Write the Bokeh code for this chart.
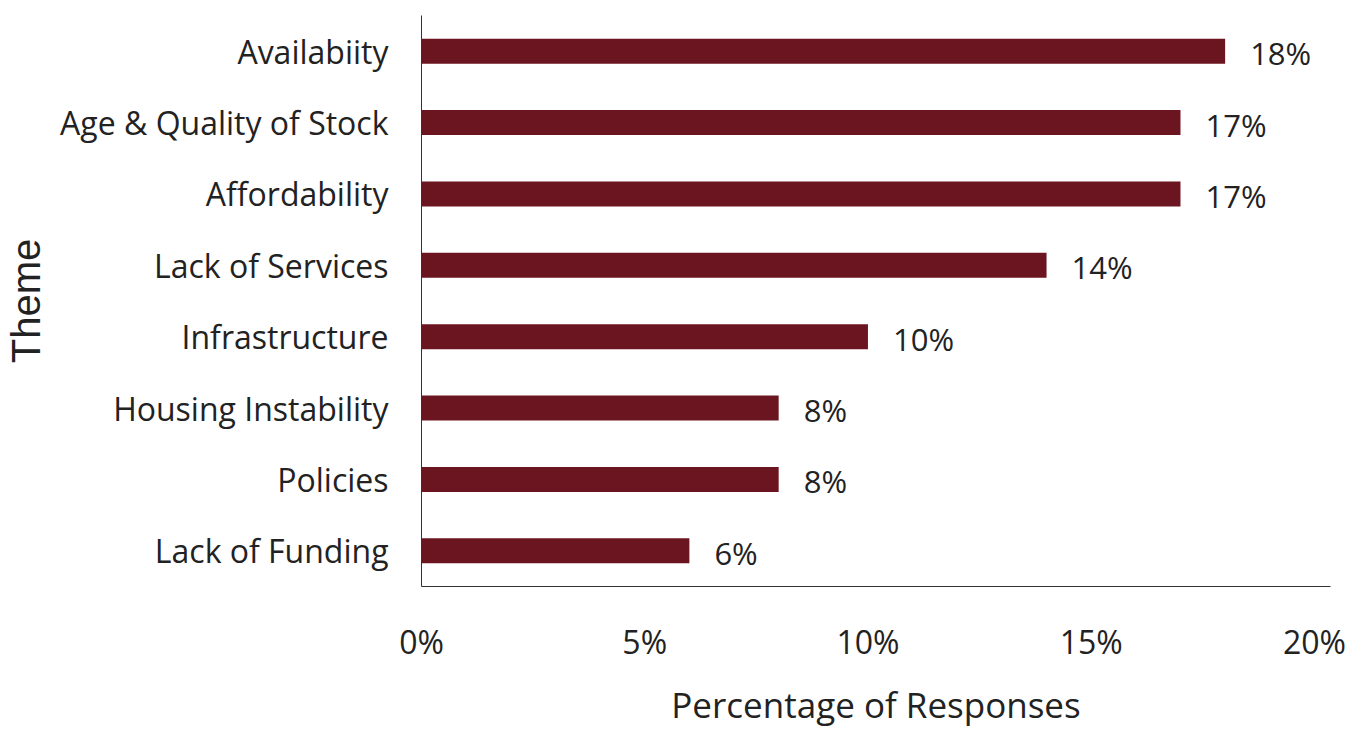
from bokeh.plotting import figure
from bokeh.models import ColumnDataSource, FactorRange, Range1d, FixedTicker, NumeralTickFormatter
from bokeh.embed import file_html
from bokeh.resources import INLINE
from bokeh.core.properties import value

themes = ["Availabiity", "Age & Quality of Stock", "Affordability", "Lack of Services",
          "Infrastructure", "Housing Instability", "Policies", "Lack of Funding"]
shares = [0.18, 0.17, 0.17, 0.14, 0.10, 0.08, 0.08, 0.06]
share_labels = ["18%", "17%", "17%", "14%", "10%", "8%", "8%", "6%"]
x_ticks = [0, 0.05, 0.10, 0.15, 0.20]

BAR = "#6B1520"
TXT = "#222222"

src = ColumnDataSource(dict(theme=themes, share=shares, label=share_labels))

p = figure(
    y_range=FactorRange(*reversed(themes), range_padding=0),
    x_range=Range1d(0, 0.2036),
    frame_width=909, frame_height=571,
    min_border_left=421, min_border_right=24, min_border_top=15, min_border_bottom=140,
    output_backend="svg", toolbar_location=None,
)
p.hbar(y="theme", right="share", height=0.35, left=0, source=src,
       fill_color=BAR, line_color=None)
p.text(x="share", y="theme", text="label", source=src, x_offset=25, y_offset=2,
       text_baseline="middle", text_align="left",
       text_font=value("Open Sans"), text_font_size="31px", text_color=TXT)

p.xgrid.visible = False
p.ygrid.visible = False
p.outline_line_color = None

xa = p.xaxis[0]
xa.ticker = FixedTicker(ticks=x_ticks)
xa.formatter = NumeralTickFormatter(format="0%")
xa.major_tick_line_color = None
xa.minor_tick_line_color = None
xa.major_tick_out = 0
xa.major_tick_in = 0
xa.major_label_standoff = 33
xa.major_label_text_font = "Open Sans"
xa.major_label_text_font_size = "32px"
xa.major_label_text_color = TXT
xa.axis_line_color = "#333333"
xa.axis_line_width = 1
xa.axis_label = "Percentage of Responses"
xa.axis_label_text_font = "Open Sans"
xa.axis_label_text_font_size = "35px"
xa.axis_label_text_font_style = "normal"
xa.axis_label_text_color = TXT
xa.axis_label_standoff = 15

ya = p.yaxis[0]
ya.major_tick_line_color = None
ya.minor_tick_line_color = None
ya.major_tick_out = 0
ya.major_tick_in = 0
ya.major_label_standoff = 33
ya.major_label_text_font = "Open Sans"
ya.major_label_text_font_size = "32px"
ya.major_label_text_color = TXT
ya.axis_line_color = "#333333"
ya.axis_line_width = 1
ya.axis_label = "Theme"
ya.axis_label_text_font = "Liberation Sans"
ya.axis_label_text_font_size = "40px"
ya.axis_label_text_font_style = "normal"
ya.axis_label_text_color = TXT
ya.axis_label_standoff = 9

open("out.html", "w").write(file_html(p, INLINE))
